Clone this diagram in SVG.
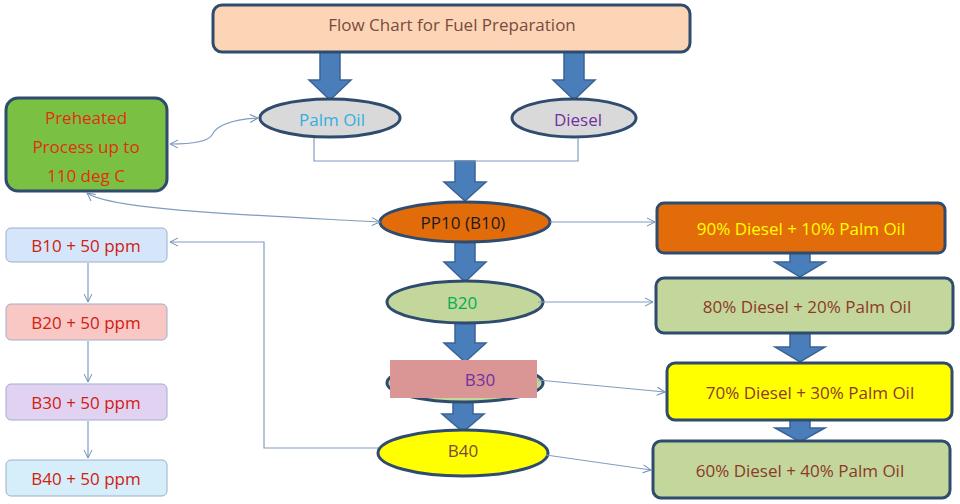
<svg xmlns="http://www.w3.org/2000/svg" width="960" height="504" viewBox="0 0 960 504">
<defs>
<marker id="ah" markerWidth="10" markerHeight="10" refX="9" refY="5" orient="auto-start-reverse" markerUnits="userSpaceOnUse"><path d="M1,1 L9,5 L1,9" fill="none" stroke="#6f8fb3" stroke-width="1"/></marker>
<path id="ba" d="M-10,0 H10 V-22 H21 L0,0 Z"/>
</defs>
<style>
text{font-family:"Open Sans","Liberation Sans",sans-serif;font-size:17px;text-anchor:middle;dominant-baseline:central}
.n{stroke:#2f4b6e;stroke-width:3}
.c{fill:none;stroke:#7f9dbf;stroke-width:1.2}
.blk{fill:#4a7ebb;stroke:#3a6395;stroke-width:1.5}
.sb{stroke:#9ab0cc;stroke-width:1}
</style>
<rect width="960" height="504" fill="#fff"/>
<g id="arrows">
<path class="blk" d="M320,52 H340 V80 H351 L330,100 L309,80 H320 Z"/>
<path class="blk" d="M564,52 H584 V80 H595 L574,100 L553,80 H564 Z"/>
<path class="blk" d="M455,161 H475 V182 H486 L465,201 L444,182 H455 Z"/>
<path class="blk" d="M455,242 H475 V262 H486 L465,282 L444,262 H455 Z"/>
<path class="blk" d="M455,323 H475 V343 H486 L465,362 L444,343 H455 Z"/>
<path class="blk" d="M453,398 H473 V414 H484 L463,432 L442,414 H453 Z"/>
<path class="blk" d="M790,253 H810 V262 H825 L800,277 L775,262 H790 Z"/>
<path class="blk" d="M790,333 H810 V347 H825 L800,362 L775,347 H790 Z"/>
<path class="blk" d="M790,420 H810 V428 H825 L800,442 L775,428 H790 Z"/>
</g>
<g id="title"><rect class="n" x="213" y="5" width="477" height="47" rx="9" fill="#fbd5b5" stroke-width="2.5"/><text x="452" y="24" fill="#7b4a3e">Flow Chart  for Fuel Preparation</text></g>
<g id="palm"><ellipse class="n" cx="330" cy="118" rx="70" ry="19" fill="#d9d9d9"/><text x="332" y="119" fill="#33b0e0">Palm Oil</text></g>
<g id="diesel"><ellipse class="n" cx="574" cy="118" rx="62" ry="19" fill="#d9d9d9"/><text x="578" y="119" fill="#7030a0">Diesel</text></g>
<g id="preheat"><rect class="n" x="6" y="98" width="161" height="93" rx="12" fill="#7ac143"/><text x="86" y="117" fill="#e03010" font-size="18">Preheated</text><text x="86" y="146" fill="#e03010" font-size="18">Process up to</text><text x="86" y="175" fill="#e03010" font-size="18">110 deg C</text></g>
<g id="pp10"><ellipse class="n" cx="465" cy="222" rx="85" ry="20" fill="#e36c0a"/><text x="463" y="222" fill="#1a1a1a">PP10 (B10)</text></g>
<g id="b20"><ellipse class="n" cx="465" cy="302" rx="78" ry="21" fill="#c3d69b"/><text x="462" y="302" fill="#00b050">B20</text></g>
<g id="b30"><ellipse class="n" cx="465" cy="383" rx="78" ry="19" fill="#c3d69b"/><rect x="390" y="360" width="147" height="38" fill="#d99694"/><text x="480" y="379" fill="#7030a0">B30</text></g>
<g id="b40"><ellipse class="n" cx="463" cy="453" rx="85" ry="23" fill="#ffff00"/><text x="463" y="450" fill="#7b4a3e">B40</text></g>
<g id="m90"><rect class="n" x="657" y="203" width="288" height="50" rx="7" fill="#e36c0a"/><text x="801" y="228" fill="#ffff00">90% Diesel + 10% Palm Oil</text></g>
<g id="m80"><rect class="n" x="656" y="278" width="297" height="55" rx="8" fill="#c3d69b"/><text x="807" y="306" fill="#8b3a2a">80% Diesel + 20% Palm Oil</text></g>
<g id="m70"><rect class="n" x="667" y="363" width="285" height="57" rx="8" fill="#ffff00"/><text x="810" y="392" fill="#8b3a2a">70% Diesel + 30% Palm Oil</text></g>
<g id="m60"><rect class="n" x="653" y="441" width="297" height="57" rx="8" fill="#c3d69b"/><text x="800" y="470" fill="#8b3a2a">60% Diesel + 40% Palm Oil</text></g>
<g id="s10"><rect class="sb" x="6" y="228" width="161" height="34" rx="5" fill="#d6e6fa"/><text x="86" y="245" fill="#d02010">B10 + 50 ppm</text></g>
<g id="s20"><rect class="sb" x="6" y="304" width="161" height="36" rx="5" fill="#f9c7c4"/><text x="86" y="322" fill="#d02010">B20 + 50 ppm</text></g>
<g id="s30"><rect class="sb" x="6" y="384" width="161" height="36" rx="5" fill="#e2d2f2"/><text x="86" y="402" fill="#d02010">B30 + 50 ppm</text></g>
<g id="s40"><rect class="sb" x="6" y="460" width="161" height="36" rx="5" fill="#d6eefa"/><text x="86" y="478" fill="#d02010">B40 + 50 ppm</text></g>
<g id="connectors">
<path class="c" d="M314,138 V161 H578 V138"/>
<path class="c" d="M258,118 C225,120 215,128 212,135 C208,142 190,144 170,144" marker-start="url(#ah)" marker-end="url(#ah)"/>
<path class="c" d="M87,193 C110,210 250,215 380,222" marker-start="url(#ah)" marker-end="url(#ah)"/>
<path class="c" d="M550,222 H655" marker-end="url(#ah)"/>
<path class="c" d="M538,302 H653" marker-end="url(#ah)"/>
<path class="c" d="M538,380 L665,392" marker-end="url(#ah)"/>
<path class="c" d="M546,455 L651,470" marker-end="url(#ah)"/>
<path class="c" d="M378,448 H264 V242 H170" marker-end="url(#ah)"/>
<path class="c" d="M88,263 V302" marker-end="url(#ah)"/>
<path class="c" d="M88,341 V382" marker-end="url(#ah)"/>
<path class="c" d="M88,421 V458" marker-end="url(#ah)"/>
</g>
</svg>
